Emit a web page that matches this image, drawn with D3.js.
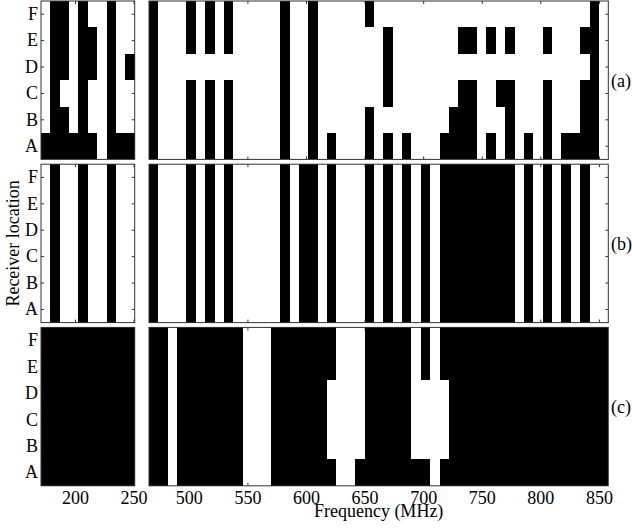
<!DOCTYPE html>
<html>
<head>
<meta charset="utf-8">
<script src="https://cdn.jsdelivr.net/npm/d3@7"></script>
<style>
  body { margin: 0; background: #fff; }
  svg text { font-family: "Liberation Serif", "Times New Roman", serif; font-size: 18px; fill: #000; }
</style>
</head>
<body>
<div id="chart"></div>
<script>
// receiver locations, top row first
const rowLabels = ["F", "E", "D", "C", "B", "A"];

// channel centre frequencies (MHz)
const vhfChannels = [175, 183, 191, 199, 207, 215, 223, 231, 239, 247];
const uhfChannels = [470, 478, 486, 494, 502, 510, 518, 526, 534, 542,
  550, 558, 566, 574, 582, 590, 598, 606, 614, 622,
  630, 638, 646, 654, 662, 670, 678, 686, 694, 702,
  710, 718, 726, 734, 742, 750, 758, 766, 774, 782,
  790, 798, 806, 814, 822, 830, 838, 846, 854];

const vhfTicks = [200, 250];
const uhfTicks = [500, 550, 600, 650, 700, 750, 800, 850];

const panelLabels = ["(a)", "(b)", "(c)"];

// 1 = black cell, one string per row (F..A), one char per channel
const occA_vhf = ["0110100100", "0110110100", "0110110101", "0100100100", "0110100100", "1111110111"];
const occA_uhf = [
  "1000101010" + "0000100100" + "0001000000" + "0000000000" + "000000010",
  "1000101010" + "0000100100" + "0000010000" + "0001101010" + "001000110",
  "1000000000" + "0000100100" + "0000010000" + "0000000000" + "000000010",
  "1000101010" + "0000100100" + "0000010000" + "0001100110" + "001000110",
  "1000101010" + "0000100100" + "0001000000" + "0011100010" + "001000110",
  "1000101010" + "0000100101" + "0001010100" + "0111101010" + "101011110"
];

const occB_vhf = ["0100100100", "0100100100", "0100100100", "0100100100", "0100100100", "0100100100"];
const bRow = "1000101010" + "0000101101" + "0001010101" + "0111111110" + "101010100";
const occB_uhf = [bRow, bRow, bRow, bRow, bRow, bRow];

const occC_vhf = ["1111111111", "1111111111", "1111111111", "1111111111", "1111111111", "1111111111"];
const occC_uhf = [
  "1101111111" + "0001111111" + "0001111101" + "0111111111" + "111111111",
  "1101111111" + "0001111111" + "0001111101" + "0111111111" + "111111111",
  "1101111111" + "0001111110" + "0001111100" + "0011111111" + "111111111",
  "1101111111" + "0001111110" + "0001111100" + "0011111111" + "111111111",
  "1101111111" + "0001111110" + "0001111100" + "0011111111" + "111111111",
  "1101111111" + "0001111111" + "0011111111" + "0111111111" + "111111111"
];

const width = 632, height = 531;
const panelTop = 1, panelH = 158.4, panelGap = 4.8;

const svg = d3.select("#chart")
  .append("svg")
  .attr("width", width)
  .attr("height", height);

const xV = d3.scaleLinear().domain([171, 251]).range([41, 134.7]);
const xU = d3.scaleLinear().domain([466, 858]).range([149, 608.3]);

const panels = [
  { label: panelLabels[0], vhf: occA_vhf, uhf: occA_uhf },
  { label: panelLabels[1], vhf: occB_vhf, uhf: occB_uhf },
  { label: panelLabels[2], vhf: occC_vhf, uhf: occC_uhf }
];

panels.forEach((p, i) => {
  const top = panelTop + i * (panelH + panelGap);
  const y = d3.scaleBand().domain(rowLabels).range([top, top + panelH]);
  const g = svg.append("g");

  const bands = [
    { x: xV, channels: vhfChannels, occ: p.vhf, ticks: vhfTicks },
    { x: xU, channels: uhfChannels, occ: p.uhf, ticks: uhfTicks }
  ];

  bands.forEach((b, j) => {
    const [x0, x1] = b.x.range();
    g.append("rect")
      .attr("x", x0).attr("y", top)
      .attr("width", x1 - x0).attr("height", panelH)
      .attr("fill", "#fff");

    const cells = [];
    b.occ.forEach((row, r) => {
      row.split("").forEach((c, k) => {
        if (c === "1") cells.push({ row: rowLabels[r], f: b.channels[k] });
      });
    });

    g.selectAll(null)
      .data(cells)
      .enter()
      .append("rect")
      .attr("x", d => b.x(d.f - 4))
      .attr("y", d => y(d.row))
      .attr("width", d => b.x(d.f + 4) - b.x(d.f - 4))
      .attr("height", y.bandwidth())
      .attr("fill", "#000")
      .attr("shape-rendering", "crispEdges");

    // ticks point inward, MATLAB style
    const xb = d3.axisBottom(b.x).tickValues(b.ticks).tickSizeInner(-3).tickSizeOuter(0).tickPadding(5.5);
    if (i < 2) xb.tickFormat("");
    g.append("g").attr("transform", `translate(0,${top + panelH})`).call(xb);
    g.append("g").attr("transform", `translate(0,${top})`)
      .call(d3.axisTop(b.x).tickValues(b.ticks).tickSizeInner(-3).tickSizeOuter(0).tickFormat(""));

    const yl = d3.axisLeft(y).tickSizeInner(-3).tickSizeOuter(0).tickPadding(3);
    if (j === 1) yl.tickFormat("");
    g.append("g").attr("transform", `translate(${x0},0)`).call(yl);
    g.append("g").attr("transform", `translate(${x1},0)`)
      .call(d3.axisRight(y).tickSizeInner(-3).tickSizeOuter(0).tickFormat(""));

    g.selectAll(".domain").remove();
    g.selectAll(".tick line").attr("stroke-width", 0.8);

    g.append("rect")
      .attr("x", x0).attr("y", top)
      .attr("width", x1 - x0).attr("height", panelH)
      .attr("fill", "none")
      .attr("stroke", "#333")
      .attr("stroke-width", 1);
  });

  svg.append("text")
    .attr("x", 611)
    .attr("y", top + panelH / 2)
    .attr("dy", "0.35em")
    .text(p.label);
});

svg.append("text")
  .attr("transform", `translate(19,${panelTop + 1.5 * (panelH + panelGap) + panelH / 2 - (panelH + panelGap) / 2})rotate(-90)`)
  .style("text-anchor", "middle")
  .text("Receiver location");

svg.append("text")
  .attr("x", (xU.range()[0] + xU.range()[1]) / 2)
  .attr("y", 517)
  .style("text-anchor", "middle")
  .text("Frequency (MHz)");
</script>
</body>
</html>
